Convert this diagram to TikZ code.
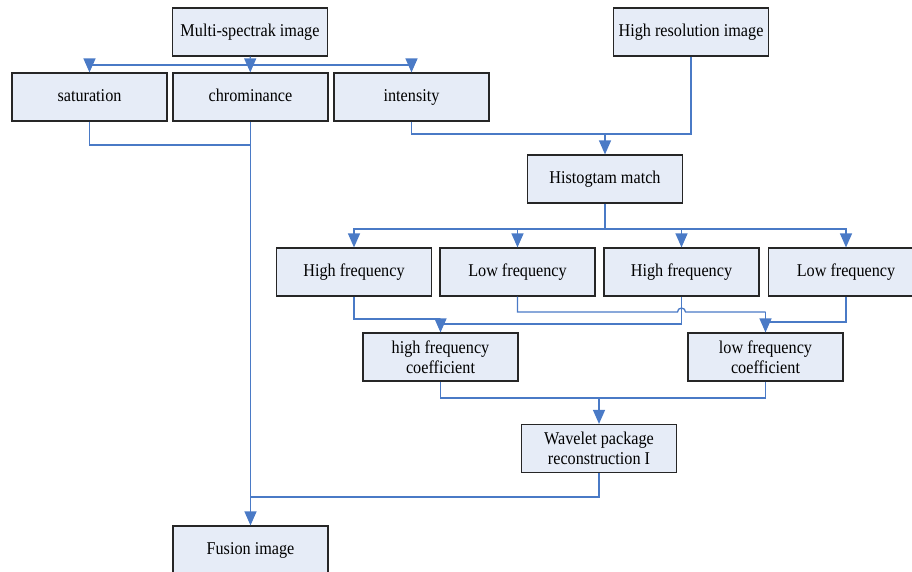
\documentclass[tikz,border=0pt]{standalone}
\usepackage{fontspec}
\setmainfont{Liberation Serif}[FakeStretch=0.9]
\usetikzlibrary{arrows.meta}

\definecolor{boxfill}{HTML}{E6ECF7}
\definecolor{linkblue}{HTML}{4A7AC6}

\begin{document}
\begin{tikzpicture}[
    x=1pt, y=-1pt,
    font=\fontsize{18}{20}\selectfont,
    box/.style={draw=black!85, line width=1.2pt, fill=boxfill, align=center,
      minimum width=155pt, minimum height=48pt, inner sep=2pt},
    b1/.style={box, text height=12pt, text depth=3pt},
    link/.style={linkblue, line width=1.3pt},
    arrow/.style={link, -{Triangle[length=14pt, width=12pt]}}
  ]
  \useasboundingbox (0,0) rectangle (912,571);
  %---- INPUTS ----
  \node[b1] (multi) at (250,32)  {Multi-spectrak image};
  \node[b1] (hires) at (691,32)  {High resolution image};
  \node[b1] (sat)   at (89.5,97) {saturation};
  \node[b1] (chrom) at (250.5,97) {chrominance};
  \node[b1] (inten) at (411.5,97) {intensity};
  \coordinate (split1) at (250,65);
  \draw[arrow] (multi) -- (chrom);
  \draw[arrow] (split1) -| (sat);
  \draw[arrow] (split1) -| (inten);
  %---- HISTOGRAM ----
  \node[b1] (hist) at (605,179) {Histogtam match};
  \coordinate (hjoin) at (605,134);
  \draw[link] (inten) |- (hjoin);
  \draw[link] (hires) |- (hjoin);
  \draw[arrow] (hjoin) -- (hist);
  %---- FREQUENCY BANDS ----
  \node[b1] (hf1) at (354,272) {High frequency};
  \node[b1] (lf1) at (517.5,272) {Low frequency};
  \node[b1] (hf2) at (681.5,272) {High frequency};
  \node[b1] (lf2) at (846,272) {Low frequency};
  \coordinate (fsplit) at (605,229);
  \draw[link] (hist) -- (fsplit);
  \draw[arrow] (fsplit) -| (hf1);
  \draw[arrow] (fsplit) -| (lf1);
  \draw[arrow] (fsplit) -| (hf2);
  \draw[arrow] (fsplit) -| (lf2);
  %---- COEFFICIENTS ----
  \node[box] (hfc) at (440.5,357) {high frequency\\coefficient};
  \node[box] (lfc) at (765.5,357) {low frequency\\coefficient};
  \coordinate (hcA) at (440.5,319);
  \coordinate (hcB) at (440.5,324);
  \coordinate (lcA) at (765.5,312);
  \coordinate (lcB) at (765.5,322);
  \coordinate (hop) at (677.5,312);
  \draw[arrow] (hf1) |- (hcA) -- (hfc);
  \draw[link] (hf2) |- (hcB);
  \draw[link] (lf1) |- (hop) arc[start angle=180, end angle=360, radius=4] -- (lcA);
  \draw[arrow] (lcA) -- (lfc);
  \draw[link] (lf2) |- (lcB);
  %---- RECONSTRUCTION ----
  \node[box] (wave) at (599,448.5) {Wavelet package\\reconstruction I};
  \coordinate (wjoin) at (599,398);
  \draw[link] (hfc) |- (wjoin);
  \draw[link] (lfc) |- (wjoin);
  \draw[arrow] (wjoin) -- (wave);
  %---- OUTPUT ----
  \node[b1] (fusion) at (250.5,550) {Fusion image};
  \coordinate (sjoin) at (250.5,145);
  \coordinate (fjoin) at (250.5,497);
  \draw[link] (sat) |- (sjoin);
  \draw[arrow] (chrom) -- (fusion);
  \draw[link] (wave) |- (fjoin);
\end{tikzpicture}
\end{document}
